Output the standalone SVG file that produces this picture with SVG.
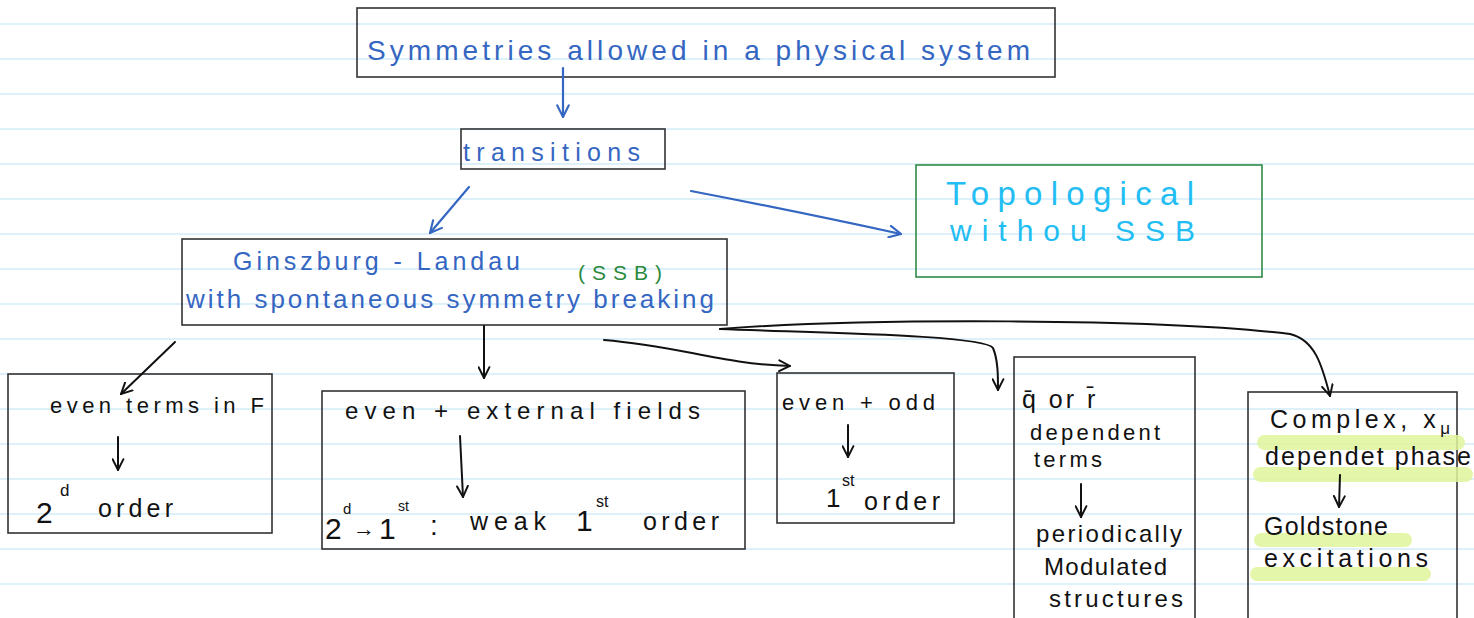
<svg xmlns="http://www.w3.org/2000/svg" width="1474" height="618" viewBox="0 0 1474 618">
<defs>
<style>
.rule{stroke:#d3ebf9;stroke-width:1.3}
.box{fill:none;stroke:#333;stroke-width:1.6}
.gbox{fill:none;stroke:#2e8b45;stroke-width:1.6}
.blue{fill:#3566c2;font-family:"Liberation Sans",sans-serif}
.cyan{fill:#22bdf2;font-family:"Liberation Sans",sans-serif}
.green{fill:#2a8a3c;font-family:"Liberation Sans",sans-serif}
.ink{fill:#111;font-family:"Liberation Sans",sans-serif}
.bc{fill:none;stroke:#3566c2;stroke-width:2.2;stroke-linecap:round}
.kc{fill:none;stroke:#111;stroke-width:2;stroke-linecap:round}
.hl{fill:#dff59a;opacity:0.85}
</style>
<marker id="ab" viewBox="0 0 12 12" refX="11" refY="6" markerWidth="14" markerHeight="14" markerUnits="userSpaceOnUse" orient="auto"><path d="M1,1 L11,6 L1,11" fill="none" stroke="#3566c2" stroke-width="1.8" stroke-linecap="round"/></marker>
<marker id="ak" viewBox="0 0 12 12" refX="11" refY="6" markerWidth="13" markerHeight="13" markerUnits="userSpaceOnUse" orient="auto"><path d="M1,1 L11,6 L1,11" fill="none" stroke="#111" stroke-width="1.8" stroke-linecap="round"/></marker>
</defs>
<rect width="1474" height="618" fill="#fff"/>
<g id="rules">
<line class="rule" x1="0" y1="24" x2="1474" y2="24"/><line class="rule" x1="0" y1="59" x2="1474" y2="59"/><line class="rule" x1="0" y1="94" x2="1474" y2="94"/><line class="rule" x1="0" y1="129" x2="1474" y2="129"/><line class="rule" x1="0" y1="164" x2="1474" y2="164"/><line class="rule" x1="0" y1="199" x2="1474" y2="199"/><line class="rule" x1="0" y1="234" x2="1474" y2="234"/><line class="rule" x1="0" y1="269" x2="1474" y2="269"/><line class="rule" x1="0" y1="304" x2="1474" y2="304"/><line class="rule" x1="0" y1="339" x2="1474" y2="339"/><line class="rule" x1="0" y1="374" x2="1474" y2="374"/><line class="rule" x1="0" y1="409" x2="1474" y2="409"/><line class="rule" x1="0" y1="444" x2="1474" y2="444"/><line class="rule" x1="0" y1="479" x2="1474" y2="479"/><line class="rule" x1="0" y1="514" x2="1474" y2="514"/><line class="rule" x1="0" y1="549" x2="1474" y2="549"/><line class="rule" x1="0" y1="584" x2="1474" y2="584"/>
</g>
<g id="n-symmetries">
<rect class="box" x="357" y="8" width="698" height="69" fill="#fff"/>
<text class="blue" x="367" y="60" font-size="28" textLength="663" lengthAdjust="spacing">Symmetries allowed in a physical system</text>
</g>
<g id="n-transitions">
<rect class="box" x="461" y="129" width="204" height="40"/>
<text class="blue" x="463" y="161" font-size="25" textLength="177" lengthAdjust="spacing">transitions</text>
</g>
<g id="n-topological">
<rect class="gbox" x="916" y="165" width="346" height="112"/>
<text class="cyan" x="946" y="205" font-size="33" textLength="248" lengthAdjust="spacing">Topological</text>
<text class="cyan" x="950" y="241" font-size="30" textLength="245" lengthAdjust="spacing">withou  SSB</text>
</g>
<g id="n-gl">
<rect class="box" x="182" y="239" width="545" height="86"/>
<text class="blue" x="233" y="270" font-size="25" textLength="287" lengthAdjust="spacing">Ginszburg - Landau</text>
<text class="green" x="578" y="280" font-size="21" textLength="84" lengthAdjust="spacing">(SSB)</text>
<text class="blue" x="186" y="308" font-size="26" textLength="528" lengthAdjust="spacing">with spontaneous symmetry breaking</text>
</g>
<g id="n-even">
<rect class="box" x="8" y="374" width="264" height="159"/>
<text class="ink" x="50" y="413" font-size="22" textLength="214" lengthAdjust="spacing">even terms in F</text>
<text class="ink" x="36" y="523" font-size="30">2</text>
<text class="ink" x="60" y="496" font-size="17">d</text>
<text class="ink" x="98" y="517" font-size="25" textLength="75" lengthAdjust="spacing">order</text>
</g>
<g id="n-external">
<rect class="box" x="322" y="391" width="423" height="158"/>
<text class="ink" x="345" y="419" font-size="24" textLength="355" lengthAdjust="spacing">even + external fields</text>
<text class="ink" x="325" y="539" font-size="30">2</text>
<text class="ink" x="343" y="514" font-size="15">d</text>
<text class="ink" x="353" y="536" font-size="22">→</text>
<text class="ink" x="379" y="539" font-size="30">1</text>
<text class="ink" x="398" y="511" font-size="14">st</text>
<text class="ink" x="430" y="535" font-size="28">:</text>
<text class="ink" x="470" y="530" font-size="25" textLength="76" lengthAdjust="spacing">weak</text>
<text class="ink" x="576" y="531" font-size="30">1</text>
<text class="ink" x="596" y="507" font-size="16">st</text>
<text class="ink" x="643" y="530" font-size="25" textLength="76" lengthAdjust="spacing">order</text>
</g>
<g id="n-odd">
<rect class="box" x="777" y="373" width="177" height="150"/>
<text class="ink" x="782" y="410" font-size="22" textLength="153" lengthAdjust="spacing">even + odd</text>
<text class="ink" x="826" y="507" font-size="26">1</text>
<text class="ink" x="842" y="486" font-size="16">st</text>
<text class="ink" x="864" y="510" font-size="25" textLength="76" lengthAdjust="spacing">order</text>
</g>
<g id="n-qr">
<rect class="box" x="1014" y="357" width="181" height="270"/>
<text class="ink" x="1022" y="408" font-size="25" letter-spacing="3">q̄ or r̄</text>
<text class="ink" x="1030" y="440" font-size="22" textLength="130" lengthAdjust="spacing">dependent</text>
<text class="ink" x="1034" y="467" font-size="22" textLength="68" lengthAdjust="spacing">terms</text>
<text class="ink" x="1036" y="542" font-size="24" textLength="146" lengthAdjust="spacing">periodically</text>
<text class="ink" x="1044" y="575" font-size="24" textLength="123" lengthAdjust="spacing">Modulated</text>
<text class="ink" x="1049" y="607" font-size="24" textLength="134" lengthAdjust="spacing">structures</text>
</g>
<g id="n-complex">
<rect class="box" x="1248" y="392" width="209" height="235"/>
<rect class="hl" x="1257" y="435" width="208" height="15" rx="7.5"/>
<rect class="hl" x="1253" y="467" width="220" height="15" rx="7.5"/>
<rect class="hl" x="1254" y="533" width="158" height="14" rx="7"/>
<rect class="hl" x="1250" y="567" width="181" height="14" rx="7"/>
<text class="ink" x="1270" y="428" font-size="25" textLength="180" lengthAdjust="spacing">Complex, x<tspan font-size="17" dy="6">μ</tspan></text>
<text class="ink" x="1265" y="465" font-size="25" textLength="206" lengthAdjust="spacing">dependet phase</text>
<text class="ink" x="1264" y="535" font-size="25" textLength="124" lengthAdjust="spacing">Goldstone</text>
<text class="ink" x="1264" y="567" font-size="25" textLength="164" lengthAdjust="spacing">excitations</text>
</g>
<g id="connectors">
<path class="bc" d="M563,68 L563,117" marker-end="url(#ab)"/>
<path class="bc" d="M469,187 L430,233" marker-end="url(#ab)"/>
<path class="bc" d="M691,191 Q790,210 901,234" marker-end="url(#ab)"/>
<path class="kc" d="M175,342 L121,394" marker-end="url(#ak)"/>
<path class="kc" d="M484,326 L484,378" marker-end="url(#ak)"/>
<path class="kc" d="M604,340 C680,346 720,364 790,366" marker-end="url(#ak)"/>
<path class="kc" d="M720,329 C820,333 985,335 993,348 C998,360 998,375 998,390" marker-end="url(#ak)"/>
<path class="kc" d="M720,329 C860,318 1160,318 1290,334 C1315,340 1322,365 1330,396" marker-end="url(#ak)"/>
<path class="kc" d="M118,437 L118,470" marker-end="url(#ak)"/>
<path class="kc" d="M460,436 L463,497" marker-end="url(#ak)"/>
<path class="kc" d="M848,425 L848,457" marker-end="url(#ak)"/>
<path class="kc" d="M1081,484 L1081,517" marker-end="url(#ak)"/>
<path class="kc" d="M1340,475 L1339,507" marker-end="url(#ak)"/>
</g>
</svg>
